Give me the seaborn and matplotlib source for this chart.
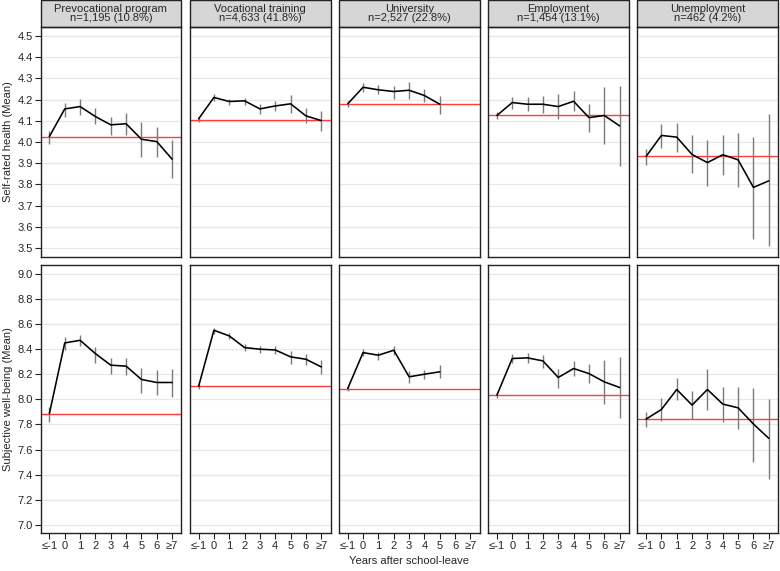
import numpy as np
import pandas as pd
import matplotlib
matplotlib.use("Agg")
import matplotlib.pyplot as plt
from matplotlib.patches import Rectangle
import seaborn as sns

# categories
groups = ["Prevocational program", "Vocational training", "University", "Employment", "Unemployment"]
group_n = ["n=1,195 (10.8%)", "n=4,633 (41.8%)", "n=2,527 (22.8%)", "n=1,454 (13.1%)", "n=462 (4.2%)"]
years = ["≤-1", "0", "1", "2", "3", "4", "5", "6", "≥7"]

# self-rated health: means, CI lower, CI upper, reference line
srh_mean = [
    [4.026, 4.156, 4.167, 4.120, 4.081, 4.086, 4.013, 4.002, 3.919],
    [4.109, 4.210, 4.191, 4.194, 4.156, 4.170, 4.180, 4.123, 4.101],
    [4.180, 4.258, 4.246, 4.238, 4.244, 4.219, 4.178, None, None],
    [4.125, 4.186, 4.178, 4.178, 4.167, 4.192, 4.115, 4.125, 4.076],
    [3.932, 4.031, 4.023, 3.941, 3.903, 3.940, 3.916, 3.786, 3.817],
]
srh_lo = [
    [3.992, 4.120, 4.128, 4.084, 4.034, 4.031, 3.929, 3.929, 3.830],
    [4.093, 4.194, 4.173, 4.173, 4.133, 4.144, 4.139, 4.089, 4.054],
    [4.167, 4.238, 4.224, 4.203, 4.203, 4.188, 4.131, None, None],
    [4.108, 4.155, 4.144, 4.136, 4.108, 4.144, 4.048, 3.991, 3.885],
    [3.894, 3.974, 3.955, 3.852, 3.795, 3.844, 3.790, 3.545, 3.508],
]
srh_hi = [
    [4.053, 4.186, 4.203, 4.162, 4.120, 4.136, 4.093, 4.073, 4.010],
    [4.117, 4.225, 4.205, 4.209, 4.178, 4.194, 4.222, 4.162, 4.144],
    [4.194, 4.280, 4.268, 4.265, 4.282, 4.250, 4.219, None, None],
    [4.140, 4.211, 4.210, 4.219, 4.224, 4.241, 4.180, 4.258, 4.264],
    [3.968, 4.086, 4.089, 4.032, 4.010, 4.034, 4.042, 4.024, 4.130],
]
srh_ref = [4.023, 4.104, 4.180, 4.125, 3.932]

# subjective well-being
swb_mean = [
    [7.887, 8.449, 8.470, 8.364, 8.272, 8.264, 8.158, 8.134, 8.134],
    [8.102, 8.550, 8.505, 8.412, 8.399, 8.393, 8.338, 8.319, 8.258],
    [8.086, 8.372, 8.351, 8.391, 8.179, 8.200, 8.219, None, None],
    [8.033, 8.325, 8.330, 8.306, 8.174, 8.245, 8.205, 8.139, 8.094],
    [7.842, 7.919, 8.078, 7.954, 8.078, 7.962, 7.932, 7.803, 7.689],
]
swb_lo = [
    [7.821, 8.391, 8.423, 8.293, 8.205, 8.192, 8.052, 8.038, 8.020],
    [8.081, 8.523, 8.478, 8.385, 8.370, 8.359, 8.285, 8.272, 8.200],
    [8.065, 8.343, 8.317, 8.351, 8.126, 8.160, 8.166, None, None],
    [8.012, 8.290, 8.290, 8.250, 8.094, 8.184, 8.131, 7.962, 7.853],
    [7.781, 7.829, 7.993, 7.840, 7.914, 7.821, 7.763, 7.503, 7.363],
]
swb_hi = [
    [7.940, 8.497, 8.515, 8.417, 8.332, 8.332, 8.253, 8.237, 8.240],
    [8.118, 8.571, 8.528, 8.438, 8.425, 8.425, 8.385, 8.364, 8.311],
    [8.105, 8.399, 8.377, 8.425, 8.226, 8.237, 8.277, None, None],
    [8.054, 8.359, 8.372, 8.356, 8.245, 8.306, 8.285, 8.317, 8.333],
    [7.895, 8.007, 8.166, 8.068, 8.240, 8.100, 8.100, 8.094, 8.001],
]
swb_ref = [7.879, 8.102, 8.081, 8.036, 7.840]

sns.set_theme(style="white")
plt.rcParams["font.family"] = ["Liberation Sans", "DejaVu Sans"]
plt.rcParams["font.size"] = 8

fig, axes = plt.subplots(
    2, 5, figsize=(7.8, 5.71), dpi=100, sharex=True, sharey="row",
    gridspec_kw={"height_ratios": [230, 267.5]},
)
fig.subplots_adjust(left=40.5 / 780, right=778 / 780, top=1 - 27 / 571,
                    bottom=1 - 533 / 571, wspace=8.3 / 140.5, hspace=0.034)

rows = [
    (srh_mean, srh_lo, srh_hi, srh_ref, "Self-rated health (Mean)",
     (3.458, 4.542), np.arange(3.5, 4.51, 0.1)),
    (swb_mean, swb_lo, swb_hi, swb_ref, "Subjective well-being (Mean)",
     (6.935, 9.066), np.arange(7.0, 9.01, 0.2)),
]
xpos = np.arange(len(years))

for r, (means, los, his, refs, ylab, ylim, yticks) in enumerate(rows):
    for c in range(len(groups)):
        ax = axes[r, c]
        df = pd.DataFrame({
            "x": xpos,
            "mean": pd.to_numeric(pd.Series(means[c]), errors="coerce"),
            "lo": pd.to_numeric(pd.Series(los[c]), errors="coerce"),
            "hi": pd.to_numeric(pd.Series(his[c]), errors="coerce"),
        })
        for yt in yticks:
            ax.axhline(yt, color="#e8e8e8", lw=0.9, zorder=0)
        ax.axhline(refs[c], color="#ff3b3b", lw=1.0, zorder=1)
        ax.vlines(df["x"], df["lo"], df["hi"], color="#7a7a7a", lw=1.0, zorder=2)
        sns.lineplot(data=df.dropna(), x="x", y="mean", ax=ax, color="black",
                     lw=1.15, zorder=3)
        ax.set_xlim(-0.58, 8.6)
        ax.set_ylim(*ylim)
        ax.set_yticks(yticks)
        ax.set_yticklabels([f"{v:.1f}" for v in yticks])
        ax.set_xticks(xpos)
        ax.set_xticklabels(years)
        ax.set_xlabel("")
        ax.set_ylabel(ylab if c == 0 else "", fontsize=8, labelpad=3)
        for s in ax.spines.values():
            s.set_color("#222222")
            s.set_linewidth(1.0)
        ax.tick_params(axis="y", left=(c == 0), length=4, width=0.8,
                       color="#222222", labelsize=8, pad=1.5, labelleft=(c == 0))
        ax.tick_params(axis="x", bottom=(r == 1), length=4, width=0.8,
                       color="#222222", labelsize=8, pad=2,
                       labelbottom=(r == 1))
        if r == 0:
            strip_h = 27 / 230
            ax.add_patch(Rectangle((0, 1), 1, strip_h, transform=ax.transAxes,
                                   facecolor="#d6d6d6", edgecolor="#222222",
                                   lw=1.0, clip_on=False))
            ax.text(0.5, 1 + strip_h / 2, groups[c] + "\n" + group_n[c],
                    transform=ax.transAxes, ha="center", va="center",
                    fontsize=8, linespacing=0.95)

fig.text(409 / 780, 1 - 561 / 571, "Years after school-leave", ha="center",
         va="center", fontsize=8)

plt.savefig("out.png", dpi=100)
